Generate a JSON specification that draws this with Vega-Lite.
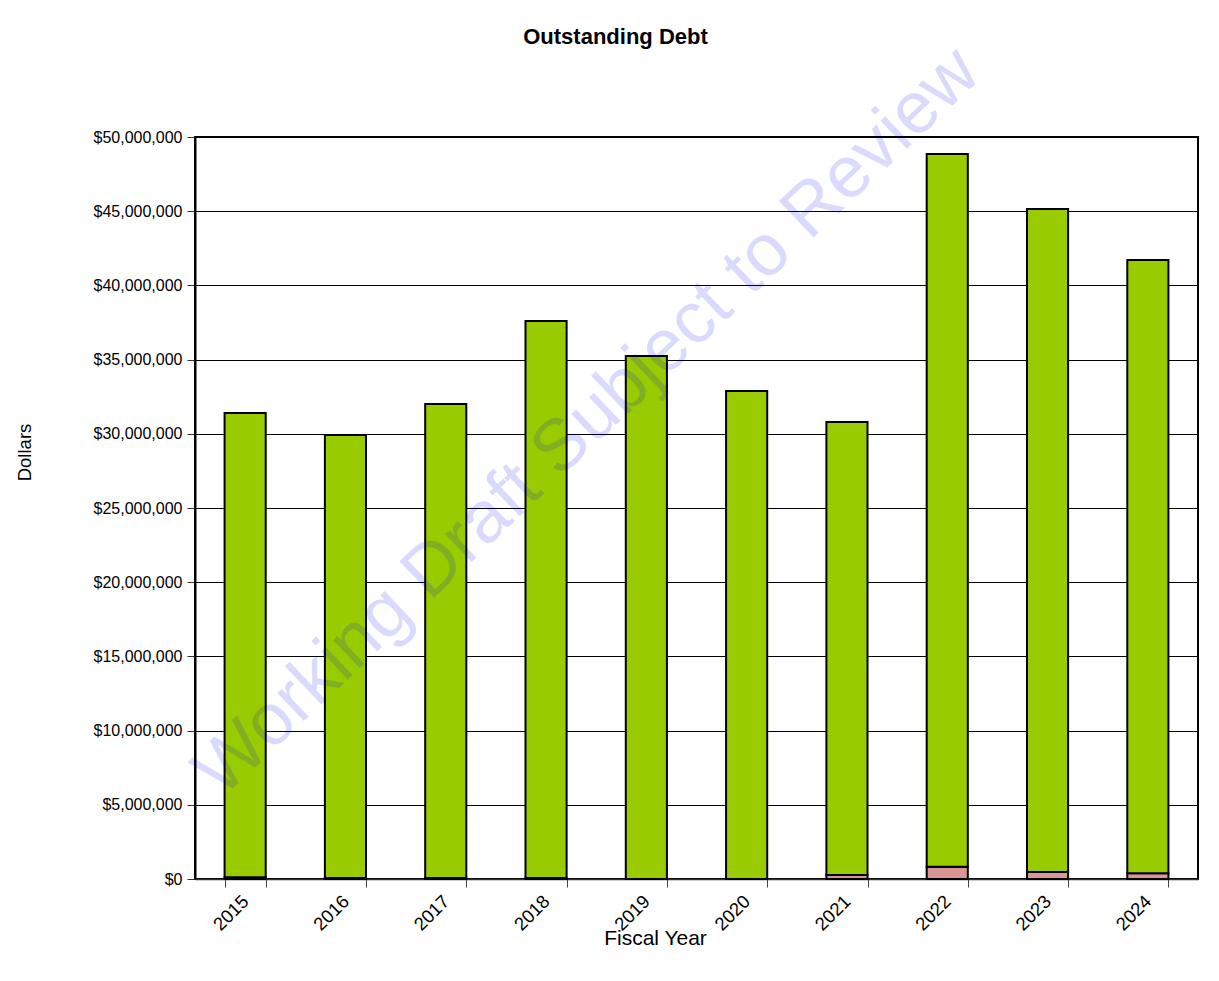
{
  "$schema": "https://vega.github.io/schema/vega-lite/v6.json",
  "width": 1003,
  "height": 742,
  "autosize": {"type": "none"},
  "padding": {"left": 195, "top": 137, "right": 21, "bottom": 102},
  "background": "white",
  "title": {
    "text": "Outstanding  Debt",
    "font": "Liberation Sans",
    "fontSize": 22,
    "fontWeight": "bold",
    "color": "black",
    "anchor": "middle",
    "frame": "group",
    "baseline": "alphabetic",
    "offset": -31,
    "dx": -81
  },
  "datasets": {
    "debt": [
      {"year": "2015", "series": "Series 1", "amount": 120000},
      {"year": "2015", "series": "Series 2", "amount": 31280000},
      {"year": "2016", "series": "Series 1", "amount": 60000},
      {"year": "2016", "series": "Series 2", "amount": 29860000},
      {"year": "2017", "series": "Series 1", "amount": 60000},
      {"year": "2017", "series": "Series 2", "amount": 31940000},
      {"year": "2018", "series": "Series 1", "amount": 60000},
      {"year": "2018", "series": "Series 2", "amount": 37540000},
      {"year": "2019", "series": "Series 2", "amount": 35240000},
      {"year": "2020", "series": "Series 2", "amount": 32880000},
      {"year": "2021", "series": "Series 1", "amount": 270000},
      {"year": "2021", "series": "Series 2", "amount": 30530000},
      {"year": "2022", "series": "Series 1", "amount": 820000},
      {"year": "2022", "series": "Series 2", "amount": 48030000},
      {"year": "2023", "series": "Series 1", "amount": 480000},
      {"year": "2023", "series": "Series 2", "amount": 44670000},
      {"year": "2024", "series": "Series 1", "amount": 380000},
      {"year": "2024", "series": "Series 2", "amount": 41330000}
    ],
    "watermark": [
      {"label": "Working Draft Subject to Review", "year": "2018", "amount": 30800000}
    ]
  },
  "layer": [
    {
      "data": {"name": "debt"},
      "mark": {"type": "bar", "stroke": "black", "strokeWidth": 2},
      "encoding": {
        "x": {
          "field": "year",
          "type": "nominal",
          "sort": null,
          "scale": {"paddingInner": 0.59, "paddingOuter": 0.295},
          "axis": {
            "title": "Fiscal Year",
            "titleFont": "Liberation Sans",
            "titleFontSize": 21,
            "titleFontWeight": "normal",
            "titleColor": "black",
            "titleX": 460,
            "titleY": 59,
            "titleAlign": "center",
            "titleBaseline": "middle",
            "titleAnchor": null,
            "labelAngle": -45,
            "labelAlign": "right",
            "labelBaseline": "middle",
            "labelFont": "Liberation Sans",
            "labelFontSize": 18.5,
            "labelColor": "black",
            "labelPadding": 11,
            "tickBand": "extent",
            "tickSize": 8,
            "tickColor": "#444444",
            "domainColor": "#333333",
            "domainWidth": 1.5,
            "grid": false
          }
        },
        "y": {
          "field": "amount",
          "type": "quantitative",
          "stack": "zero",
          "scale": {"domain": [0, 50000000], "nice": false},
          "axis": {
            "title": "Dollars",
            "titleFont": "Liberation Sans",
            "titleFontSize": 18.5,
            "titleFontWeight": "normal",
            "titleColor": "black",
            "titleAngle": -90,
            "titleX": -171,
            "titleY": 315,
            "titleAlign": "center",
            "titleBaseline": "middle",
            "titleAnchor": null,
            "values": [0, 5000000, 10000000, 15000000, 20000000, 25000000, 30000000, 35000000, 40000000, 45000000, 50000000],
            "format": "$,.0f",
            "labelFont": "Liberation Sans",
            "labelFontSize": 16,
            "labelColor": "black",
            "labelPadding": 5,
            "tickSize": 8,
            "tickColor": "#333333",
            "domainColor": "black",
            "domainWidth": 2,
            "grid": true,
            "gridColor": "black",
            "gridWidth": 1,
            "gridOpacity": 1
          }
        },
        "color": {
          "field": "series",
          "type": "nominal",
          "scale": {"domain": ["Series 1", "Series 2"], "range": ["#D99694", "#99CC00"]},
          "legend": null
        },
        "order": {"field": "series", "sort": "ascending"}
      }
    },
    {
      "data": {"name": "watermark"},
      "mark": {
        "type": "text",
        "font": "Liberation Sans",
        "fontSize": 73,
        "angle": -43.5,
        "align": "center",
        "baseline": "middle",
        "fill": "#0000FF",
        "opacity": 0.14
      },
      "encoding": {
        "x": {"field": "year", "type": "nominal", "bandPosition": 1.5},
        "y": {"field": "amount", "type": "quantitative"},
        "text": {"field": "label"}
      }
    }
  ],
  "config": {
    "view": {"stroke": "black", "strokeWidth": 2},
    "font": "Liberation Sans"
  }
}
